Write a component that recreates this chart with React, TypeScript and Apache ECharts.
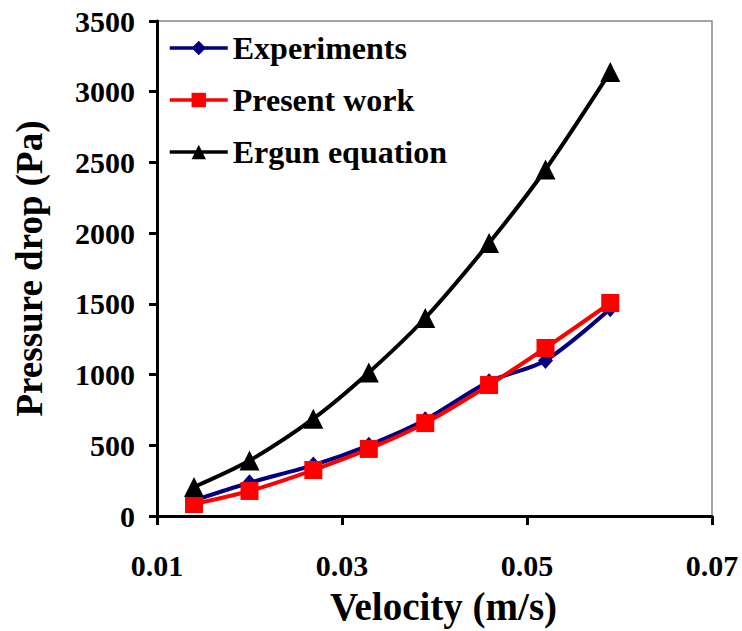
import React, { useEffect, useRef } from "react";
import * as echarts from "echarts";

const velocity = [0.014, 0.02, 0.0269, 0.0329, 0.039, 0.0459, 0.052, 0.059];
const experiments = [110, 235, 360, 500, 680, 950, 1100, 1465];
const presentWork = [85, 177, 325, 474, 657, 926, 1188, 1506];
const ergun = [205, 392, 688, 1015, 1400, 1930, 2450, 3140];
const xTicks = [0.01, 0.03, 0.05, 0.07];

const FONT = "Liberation Serif";

export default function App() {
  const ref = useRef<HTMLDivElement>(null);
  useEffect(() => {
    if (!ref.current) return;
    const chart = echarts.init(ref.current, undefined, { renderer: "svg" });
    const pair = (ys: number[]) => velocity.map((x, i) => [x, ys[i]]);
    const textStyle = { fontFamily: FONT, fontWeight: "bold" as const, color: "#000" };
    chart.setOption({
      animation: false,
      backgroundColor: "#fff",
      textStyle: { fontFamily: FONT },
      grid: {
        left: 157,
        right: 30,
        top: 21,
        bottom: 115,
        show: true,
        borderColor: "#888",
        borderWidth: 1.5,
        containLabel: false,
        outerBoundsMode: "none",
      },
      legend: {
        orient: "vertical",
        left: 163,
        top: 27,
        itemWidth: 58,
        itemHeight: 18,
        itemGap: 20,
        lineStyle: { width: 3.5 },
        textStyle: { ...textStyle, fontSize: 32 },
        data: ["Experiments", "Present work", "Ergun equation"],
      },
      xAxis: {
        type: "value",
        min: 0.01,
        max: 0.07,
        name: "Velocity (m/s)",
        nameLocation: "middle",
        nameGap: 71,
        nameTextStyle: { ...textStyle, fontSize: 39, padding: [0, 0, 0, 18] },
        axisLine: { lineStyle: { color: "#000", width: 3 } },
        axisTick: { show: true, length: 9, lineStyle: { color: "#000", width: 3 }, customValues: xTicks },
        axisLabel: {
          ...textStyle,
          fontSize: 30,
          margin: 34,
          customValues: xTicks,
          formatter: (v: number) => v.toFixed(2),
        },
        splitLine: { show: false },
      },
      yAxis: {
        type: "value",
        min: 0,
        max: 3500,
        interval: 500,
        name: "Pressure drop (Pa)",
        nameLocation: "middle",
        nameGap: 109,
        nameTextStyle: { ...textStyle, fontSize: 37 },
        axisLine: { show: true, lineStyle: { color: "#000", width: 3 } },
        axisTick: { show: true, length: 8, lineStyle: { color: "#000", width: 3 } },
        axisLabel: { ...textStyle, fontSize: 30, margin: 22, formatter: (v: number) => String(v) },
        splitLine: { show: false },
      },
      series: [
        {
          name: "Experiments",
          type: "line",
          data: pair(experiments),
          smooth: 0.3,
          symbol: "diamond",
          symbolSize: [15, 17],
          lineStyle: { color: "#000080", width: 4 },
          itemStyle: { color: "#000080" },
          z: 3,
        },
        {
          name: "Present work",
          type: "line",
          data: pair(presentWork),
          smooth: 0.3,
          symbol: "rect",
          symbolSize: 18,
          lineStyle: { color: "#ff0000", width: 4 },
          itemStyle: { color: "#ff0000" },
          z: 4,
        },
        {
          name: "Ergun equation",
          type: "line",
          data: pair(ergun),
          smooth: 0.3,
          symbol: "triangle",
          symbolSize: 20,
          lineStyle: { color: "#000", width: 4 },
          itemStyle: { color: "#000" },
          z: 5,
        },
      ],
    });
    return () => chart.dispose();
  }, []);
  return <div ref={ref} style={{ width: 742, height: 631, position: "absolute", left: 0, top: 0 }} />;
}
